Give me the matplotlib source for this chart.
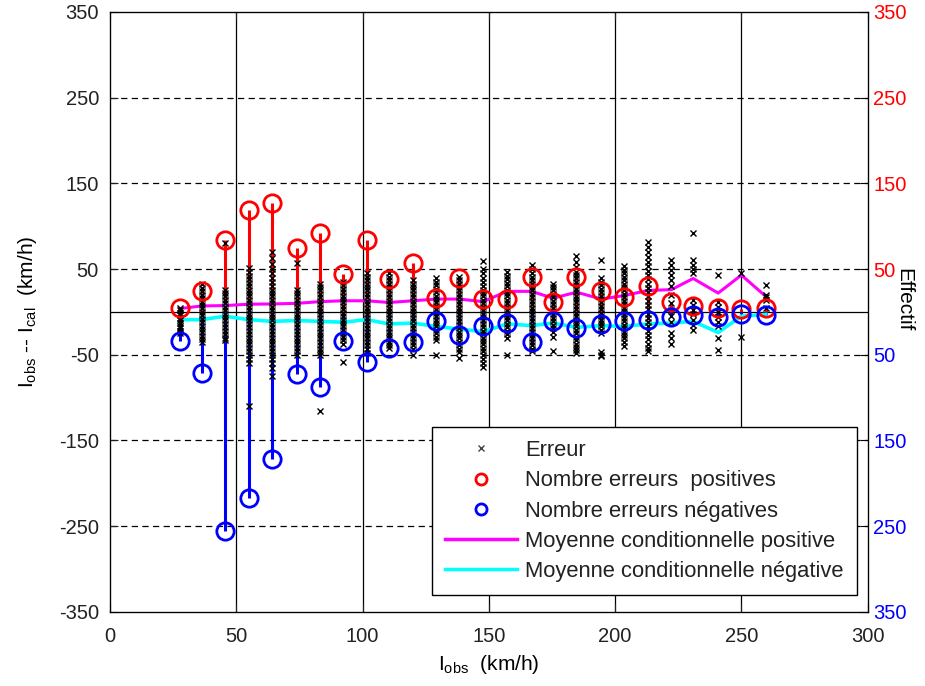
import numpy as np
import matplotlib
matplotlib.use('Agg')
import matplotlib.pyplot as plt
from matplotlib.lines import Line2D

plt.rcParams['font.family'] = ['Liberation Sans', 'DejaVu Sans']
plt.rcParams['mathtext.fontset'] = 'custom'
plt.rcParams['mathtext.rm'] = 'Liberation Sans'
plt.rcParams['mathtext.it'] = 'Liberation Sans:italic'
plt.rcParams['axes.unicode_minus'] = False

# ---------------------------------------------------------------------------
# speed classes (km/h)
i_obs = [27.7, 36.4, 45.5, 55.0, 64.1, 74.0, 83.1, 92.2, 101.7, 110.4,
         120.0, 129.2, 138.2, 147.7, 157.2, 166.9, 175.4, 184.7, 194.6,
         203.4, 213.0, 222.3, 230.9, 240.8, 250.0, 259.7]

# counts of positive / negative errors (Effectif)
n_pos = [4, 24, 84, 119, 127, 74, 92, 44, 84, 38,
         57, 16, 39, 15, 15, 41, 12, 41, 24, 17,
         30, 11, 7, 5, 3, 5]
n_neg = [34, 71, 256, 217, 172, 72, 88, 34, 58, 42,
         35, 11, 27, 17, 13, 35, 11, 19, 14, 11,
         9, 6, 4, 6, 2, 4]

# conditional means (km/h)
mean_pos = [4, 7, 7.4, 9, 9.3, 10, 12, 13, 13, 11,
            13, 15, 15, 12, 24, 24, 16, 23, 15, 19,
            25, 26, 39, 22, 43, 18]
mean_neg = [-9, -9, -5, -9, -11, -10, -11, -12, -9, -14,
            -13, -17, -20, -23, -14, -16, -13, -18, -16, -17,
            -14, -13, -11, -24, -5, -3]

# individual errors I_obs - I_cal, one list per speed class
errors = [
    [5, 2, -1, -4, -7, -10, -13, -16, -19, -22, -25],
    [33, 28, 24, 20, 16, 12, 8, 4, 0, -4, -8, -12, -16, -20, -24, -28, -32, -35],
    [80, 26, 22, 18, 14, 10, 6, 2, -2, -6, -10, -14, -18, -22, -26, -30, -33],
    [51, 46, 42, 38, 34, 30, 26, 22, 18, 14, 10, 6, 2, -2, -6, -10, -14, -18,
     -22, -26, -30, -34, -38, -42, -46, -50, -55, -60, -110],
    [70, 63, 56, 50, 45, 40, 35, 30, 26, 22, 18, 14, 10, 6, 2, -2, -6, -10,
     -14, -18, -22, -26, -30, -34, -38, -42, -46, -50, -55, -60, -66, -75],
    [57, 26, 22, 18, 14, 10, 6, 2, -2, -6, -10, -14, -18, -22, -26, -30, -34,
     -38, -42, -46, -50],
    [33, 29, 25, 21, 17, 13, 9, 5, 1, -3, -7, -11, -15, -19, -23, -27, -31,
     -35, -39, -43, -47, -50, -116],
    [35, 31, 27, 23, 19, 15, 11, 7, 3, -1, -5, -9, -13, -17, -21, -25, -29,
     -33, -37, -59],
    [45, 41, 37, 33, 29, 25, 21, 17, 13, 9, 5, 1, -3, -7, -11, -15, -19, -23,
     -27, -31, -35, -39, -43, -48],
    [45, 41, 37, 33, 29, 25, 21, 17, 13, 9, 5, 1, -3, -7, -11, -15, -19, -23,
     -27, -31, -35, -39, -42],
    [37, 33, 29, 25, 21, 17, 13, 9, 5, 1, -3, -7, -11, -15, -19, -23, -27,
     -31, -35, -39, -43, -50],
    [39, 35, 31, 27, 23, 19, 15, 11, 7, 3, -1, -5, -9, -13, -17, -21, -25,
     -29, -33, -50],
    [41, 37, 33, 29, 25, 21, 17, 13, 9, 5, 1, -3, -7, -11, -15, -19, -23, -27,
     -31, -35, -39, -43, -47, -54],
    [59, 50, 45, 40, 35, 30, 26, 22, 18, 14, 10, 6, 2, -2, -6, -10, -14, -18,
     -22, -26, -30, -34, -38, -42, -46, -50, -55, -60, -64],
    [47, 42, 38, 34, 30, 26, 22, 18, 14, 10, 6, 2, -2, -6, -10, -14, -18, -22,
     -26, -31, -50],
    [55, 50, 45, 41, 37, 33, 29, 25, 21, 17, 13, 9, 5, 1, -3, -7, -11, -15,
     -19, -23, -27, -31, -35, -39, -43, -46],
    [33, 29, 25, 21, 17, 13, 9, 5, 1, -3, -7, -11, -15, -19, -23, -29, -46],
    [65, 58, 52, 47, 43, 39, 35, 31, 27, 23, 19, 15, 11, 7, 3, -1, -5, -9,
     -13, -17, -21, -25, -29, -33, -37, -41, -45, -48],
    [61, 39, 35, 31, 27, 23, 19, 15, 11, 7, 3, -1, -5, -9, -13, -17, -21, -25,
     -47, -50, -52],
    [53, 49, 45, 41, 37, 33, 29, 25, 21, 17, 13, 9, 5, 1, -3, -7, -11, -15,
     -19, -23, -27, -31, -35, -40],
    [82, 76, 70, 64, 58, 53, 48, 43, 38, 33, 28, 23, 18, 13, 8, 3, -2, -7,
     -12, -17, -22, -27, -32, -37, -42, -46],
    [61, 55, 49, 43, 37, 30, 20, 10, 2, -5, -12, -25, -30, -37],
    [92, 61, 55, 50, 45, 14, 8, 2, -3, -9, -15, -21],
    [43, 12, 6, 0, -6, -12, -17, -30, -44],
    [45, -29],
    [31, 20, 17, 14, 5],
]

y_ticks = [-350, -250, -150, -50, 50, 150, 250, 350]
x_ticks = [0, 50, 100, 150, 200, 250, 300]

# ---------------------------------------------------------------------------
fig = plt.figure(figsize=(9.25, 6.86), dpi=100)
ax = fig.add_axes([0.119, 0.108, 0.819, 0.8746])

RED, BLUE = '#ff0000', '#0000ff'
MAG, CYAN = '#ff00ff', '#00ffff'

# grid
for v in y_ticks[1:-1]:
    ax.axhline(v, color='k', lw=0.9, ls=(0, (5, 3.5)), zorder=1)
for v in x_ticks[1:-1]:
    ax.axvline(v, color='k', lw=0.9, zorder=1)
ax.axhline(0, color='k', lw=0.9, zorder=1)

x = np.asarray(i_obs)
pos = np.asarray(n_pos, dtype=float)
neg = -np.asarray(n_neg, dtype=float)

ax.vlines(x, 0, pos, color=RED, lw=2.2, zorder=2)
ax.vlines(x, 0, neg, color=BLUE, lw=2.2, zorder=2)

ax.plot(x, mean_pos, color=MAG, lw=2.2, zorder=3)
ax.plot(x, mean_neg, color=CYAN, lw=2.6, zorder=3)

for xi, errs in zip(i_obs, errors):
    ax.plot([xi] * len(errs), errs, 'x', color='k', ms=5, mew=1.0, zorder=4)

ax.plot(x, pos, 'o', mfc='none', mec=RED, ms=12.5, mew=2.0, zorder=5)
ax.plot(x, neg, 'o', mfc='none', mec=BLUE, ms=12.5, mew=2.0, zorder=5)

ax.set_xlim(0, 300)
ax.set_ylim(-350, 350)
ax.set_xticks(x_ticks)
ax.set_yticks(y_ticks)
ax.tick_params(direction='in', length=6, labelsize=14.5, colors='#222222',
               top=True)
ax.tick_params(axis='x', pad=11)
ax.tick_params(axis='y', pad=8)
for sp in ax.spines.values():
    sp.set_linewidth(0.9)

ax.set_xlabel(r'$\mathrm{I_{obs}}$  (km/h)', fontsize=15, labelpad=5)
ax.set_ylabel(r'$\mathrm{I_{obs}}$ -- $\mathrm{I_{cal}}$  (km/h)',
              fontsize=15, labelpad=14)

# right axis: counts
ax2 = ax.twinx()
ax2.set_ylim(-350, 350)
ax2.set_yticks(y_ticks)
ax2.set_yticklabels([str(abs(v)) for v in y_ticks])
ax2.tick_params(direction='in', length=6, labelsize=14.5, pad=4)
for lbl, v in zip(ax2.get_yticklabels(), y_ticks):
    lbl.set_color(RED if v > 0 else BLUE)
ax2.set_ylabel('Effectif', fontsize=15, rotation=270, va='center')
ax2.yaxis.set_label_coords(1.047, 0.52)

handles = [
    Line2D([], [], ls='none', marker='x', color='#444444', ms=5, mew=1.0),
    Line2D([], [], ls='none', marker='o', mfc='none', mec=RED, ms=8, mew=2),
    Line2D([], [], ls='none', marker='o', mfc='none', mec=BLUE, ms=8, mew=2),
    Line2D([], [], color=MAG, lw=2.5),
    Line2D([], [], color=CYAN, lw=2.5),
]
labels = ['Erreur', 'Nombre erreurs  positives', 'Nombre erreurs négatives',
          'Moyenne conditionnelle positive', 'Moyenne conditionnelle négative']
leg = ax2.legend(handles, labels, loc='lower right',
                 bbox_to_anchor=(0.9855, 0.028), borderaxespad=0,
                 fontsize=15.8, labelspacing=0.42, handlelength=3.3,
                 handletextpad=0.35, fancybox=False, framealpha=1,
                 edgecolor='k', borderpad=0.6)
leg.get_frame().set_linewidth(1.0)
for t in leg.get_texts():
    t.set_color('#222222')

fig.savefig('out.png', dpi=100)
